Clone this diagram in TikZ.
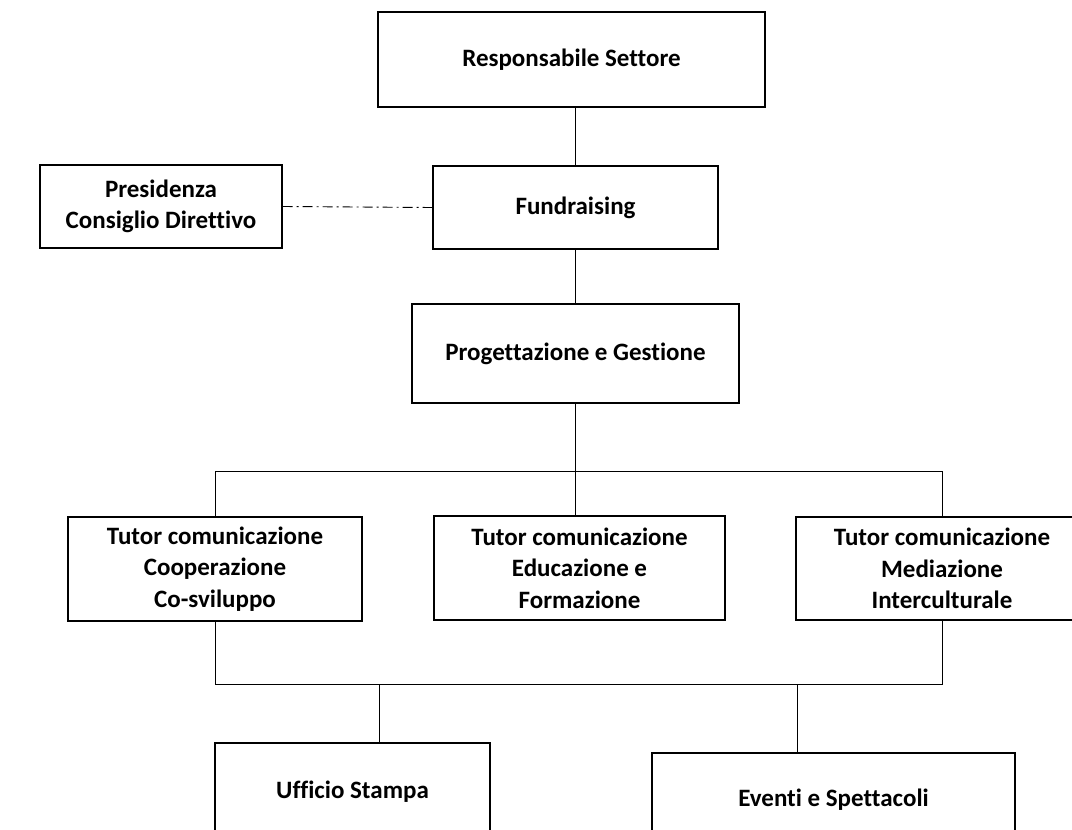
\documentclass[tikz,border=0pt]{standalone}
\usepackage{fontspec}
\setmainfont{Carlito}[Ligatures={NoCommon}]
\begin{document}
\begin{tikzpicture}[x=1pt,y=-1pt,
  box/.style={draw=black, line width=1.2pt, inner sep=0pt, align=center,
    font=\bfseries\fontsize{25}{31.5}\selectfont},
  conn/.style={draw=black, line width=0.9pt},
  dashdot/.style={draw=black, line width=0.9pt, dash pattern=on 10pt off 4pt on 2pt off 4pt}]
\useasboundingbox (0,0) rectangle (1072,830);
\clip (0,0) rectangle (1072,830);
\fill[white] (0,0) rectangle (1072,830);
\node[box, minimum width=387pt, minimum height=95pt] (rs) at (571.5,59.5) {Responsabile Settore};
\node[box, minimum width=242pt, minimum height=83pt] (pres) at (161,206.5) {Presidenza\\Consiglio Direttivo};
\node[box, minimum width=285pt, minimum height=83pt] (fund) at (575.5,207.5) {Fundraising};
\node[box, minimum width=327pt, minimum height=99pt] (prog) at (575.5,353.5) {Progettazione e Gestione};
\node[box, minimum width=294pt, minimum height=104pt] (t1) at (215,569) {Tutor comunicazione\\Cooperazione\\Co-sviluppo};
\node[box, minimum width=291pt, minimum height=104pt] (t2) at (579.5,568) {Tutor comunicazione\\Educazione e\\Formazione};
\node[box, minimum width=292pt, minimum height=103pt] (t3) at (942,568.5) {Tutor comunicazione\\Mediazione\\Interculturale};
\node[box, minimum width=275pt, minimum height=98pt] (uff) at (352.5,792) {Ufficio Stampa};
\node[box, minimum width=363pt, minimum height=94pt] (eve) at (833.5,800) {Eventi e Spettacoli};
\coordinate (busR) at (942,471);
\coordinate (bbR) at (942,684);
\coordinate (dU) at (379,684);
\coordinate (dE) at (797,684);
\draw[conn] (fund.north) -- (fund.north |- rs.south);
\draw[dashdot] (pres.east) -- (fund.west);
\draw[conn] (fund.south) -- (prog.north);
\draw[conn] (prog.south) -- (prog.south |- t2.north);
\draw[conn] (t1.north) |- (busR) -- (t3.north);
\draw[conn] (t1.south) |- (bbR) -- (t3.south);
\draw[conn] (dU) -- (dU |- uff.north);
\draw[conn] (dE) -- (dE |- eve.north);
\end{tikzpicture}
\end{document}
